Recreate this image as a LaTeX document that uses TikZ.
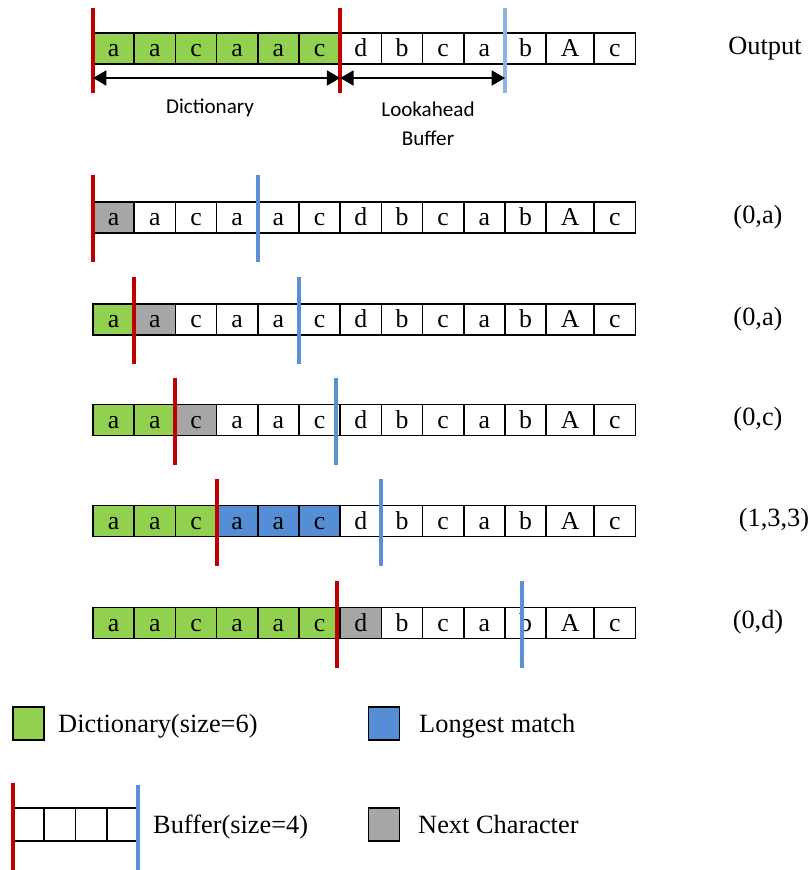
\documentclass[tikz,border=0pt]{standalone}
\usepackage{fontspec}
\setmainfont{Liberation Serif}
\newfontfamily\labelfont{Carlito}
\usepackage{xcolor}
\usetikzlibrary{arrows.meta}

\definecolor{dictgreen}{HTML}{92D050}
\definecolor{matchblue}{HTML}{558ED5}
\definecolor{nextgray}{HTML}{A6A6A6}
\definecolor{barred}{HTML}{C00000}
\definecolor{barblue}{HTML}{5B8FD6}
\definecolor{barlight}{HTML}{8EB4E3}

% one row of the sliding window: #1 name, #2 y, #3 last green cell,
% #4..#5 highlighted cells, #6 their fill
\newcommand{\lzrow}[6]{%
  \foreach \ch/\w [count=\i] in {a/41.2,a/41.2,c/41.2,a/41.2,a/41.2,c/41.2,d/41.2,b/41.2,c/41.2,a/41.2,b/41.2,A/48,c/41.2}{
    \pgfmathtruncatemacro\j{\i-1}
    \def\fillc{white}
    \ifnum\i>#3 \else\def\fillc{dictgreen}\fi
    \ifnum\i<#4 \else\ifnum\i>#5 \else\def\fillc{#6}\fi\fi
    \ifnum\i=1
      \node[cell=\fillc, minimum width=\w*0.03cm, anchor=west] (#1-\i) at (93,#2) {\ch};
    \else
      \node[cell=\fillc, minimum width=\w*0.03cm, anchor=west] (#1-\i) at (#1-\j.east) {\ch};
    \fi
  }%
}

\begin{document}
\begin{tikzpicture}[x=0.03cm, y=-0.03cm,
  cell/.style={draw, line width=1.4pt, fill=#1, inner sep=0pt, outer sep=0pt,
    minimum height=0.93cm, text height=15pt, text depth=1pt,
    font=\fontsize{22}{26}\selectfont},
  cell/.default=white,
  key/.style={draw, line width=1.4pt, fill=#1, inner sep=0pt, outer sep=0pt,
    minimum width=0.93cm, minimum height=0.99cm},
  key/.default=white,
  txt/.style={inner sep=0pt, text height=15pt, text depth=5pt, font=\fontsize{22.5}{26}\selectfont},
  note/.style={inner sep=0pt, align=center, font=\labelfont\fontsize{18}{24.7}\selectfont},
  redbar/.style={draw=barred, line width=3.4pt},
  bluebar/.style={draw=barblue, line width=3.4pt},
  span/.style={line width=1.6pt,
    {Triangle[length=0.4cm,width=0.45cm]}-{Triangle[length=0.4cm,width=0.45cm]}}]
  \useasboundingbox (0,0) rectangle (811,870);

  % window rows
  \lzrow{r1}{48.5}{6}{99}{99}{white}
  \lzrow{r2}{217.5}{0}{1}{1}{nextgray}
  \lzrow{r3}{319.5}{1}{2}{2}{nextgray}
  \lzrow{r4}{420}{2}{3}{3}{nextgray}
  \lzrow{r5}{521}{3}{4}{6}{matchblue}
  \lzrow{r6}{623}{6}{7}{7}{nextgray}

  % window borders
  \draw[redbar] ([yshift=0.75cm]r1-1.north west) -- ([yshift=-0.87cm]r1-1.south west);
  \draw[redbar] ([yshift=0.75cm]r1-7.north west) -- ([yshift=-0.87cm]r1-7.south west);
  \draw[draw=barlight, line width=3pt] ([yshift=0.75cm]r1-11.north west) -- ([yshift=-0.87cm]r1-11.south west);
  \draw[redbar] ([yshift=0.81cm]r2-1.north west) -- ([yshift=-0.87cm]r2-1.south west);
  \draw[bluebar] ([yshift=0.81cm]r2-5.north west) -- ([yshift=-0.87cm]r2-5.south west);
  \draw[redbar] ([yshift=0.81cm]r3-2.north west) -- ([yshift=-0.87cm]r3-2.south west);
  \draw[bluebar] ([yshift=0.81cm]r3-6.north west) -- ([yshift=-0.87cm]r3-6.south west);
  \draw[redbar] ([yshift=0.81cm]r4-3.north west) -- ([yshift=-0.87cm]r4-3.south west);
  \draw[bluebar] ([xshift=-0.12cm,yshift=0.81cm]r4-7.north west) -- ([xshift=-0.12cm,yshift=-0.87cm]r4-7.south west);
  \draw[redbar] ([yshift=0.81cm]r5-4.north west) -- ([yshift=-0.87cm]r5-4.south west);
  \draw[bluebar] ([yshift=0.81cm]r5-8.north west) -- ([yshift=-0.87cm]r5-8.south west);
  \draw[redbar] ([xshift=-0.1cm,yshift=0.81cm]r6-7.north west) -- ([xshift=-0.1cm,yshift=-0.87cm]r6-7.south west);
  \draw[bluebar] ([xshift=0.5cm,yshift=0.81cm]r6-11.north west) -- ([xshift=0.5cm,yshift=-0.87cm]r6-11.south west);

  % dictionary and lookahead spans
  \draw[span] ([yshift=-0.42cm]r1-1.south west) -- ([yshift=-0.42cm]r1-7.south west);
  \draw[span] ([yshift=-0.42cm]r1-7.south west) -- ([yshift=-0.42cm]r1-11.south west);
  \node[note] (dict) at (210,108) {Dictionary};
  \node[note] (look) at (428,123.5) {Lookahead\\Buffer};

  % output column
  \node[txt] (out0) at (765,48.5) {Output};
  \node[txt] (out1) at (758,217.5) {(0,a)};
  \node[txt] (out2) at (758,319.5) {(0,a)};
  \node[txt] (out3) at (758,420) {(0,c)};
  \node[txt] (out4) at (774,521) {(1,3,3)};
  \node[txt] (out5) at (758,623) {(0,d)};

  % legend
  \node[key=dictgreen] (keydict) at (28.5,723.5) {};
  \node[txt, anchor=west] (keydicttxt) at (58,727) {Dictionary(size=6)};
  \node[key=matchblue] (keymatch) at (384,723.5) {};
  \node[txt, anchor=west] (keymatchtxt) at (419,727) {Longest match};
  \foreach \i in {1,...,4}{
    \node[key, minimum width=0.94cm] (buf-\i) at ({13+(\i-0.5)*31.3},824.5) {};
  }
  \draw[redbar] ([yshift=0.75cm]buf-1.north west) -- ([yshift=-0.9cm]buf-1.south west);
  \draw[bluebar] ([yshift=0.7cm]buf-4.north east) -- ([yshift=-0.9cm]buf-4.south east);
  \node[txt, anchor=west] (keybuftxt) at (153,828) {Buffer(size=4)};
  \node[key=nextgray] (keynext) at (384,824.5) {};
  \node[txt, anchor=west] (keynexttxt) at (418,828) {Next Character};
\end{tikzpicture}
\end{document}
